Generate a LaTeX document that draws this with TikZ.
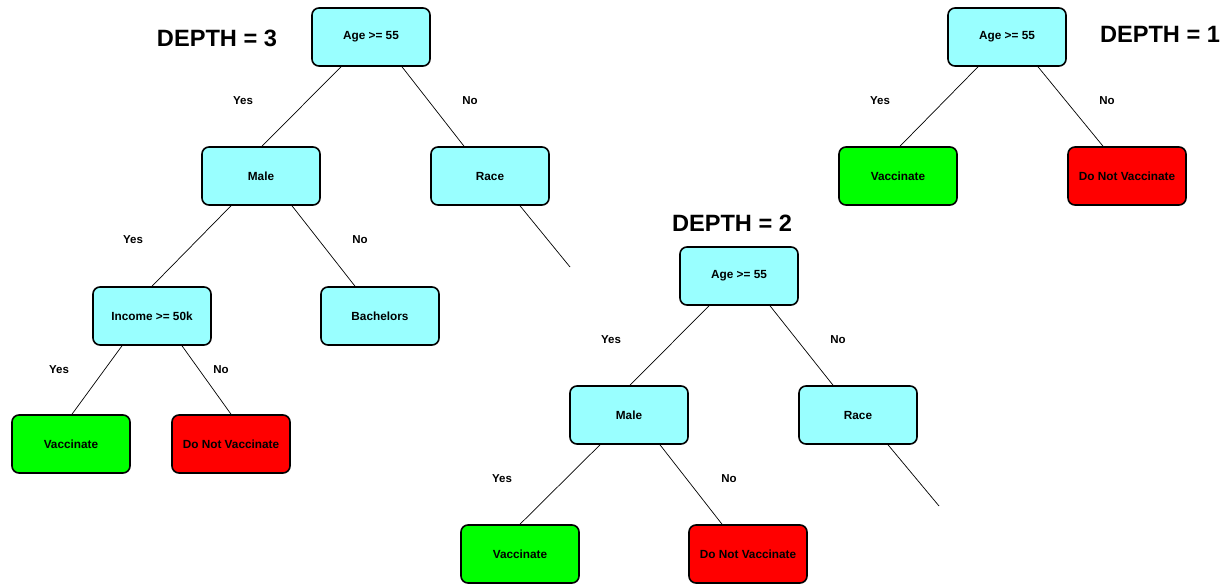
\documentclass[tikz,border=0pt]{standalone}
\usepackage{fontspec}
\setmainfont{Liberation Sans}
\usetikzlibrary{calc}
\definecolor{boxcyan}{HTML}{99FFFF}
\definecolor{boxgreen}{HTML}{00FF00}
\definecolor{boxred}{HTML}{FF0000}
\tikzset{
  box/.style={draw=black, line width=1.6pt, rounded corners=7pt,
    minimum width=118pt, minimum height=58pt, inner sep=0pt,
    font=\fontsize{11.8}{14}\selectfont\bfseries},
  split/.style={box, fill=boxcyan},
  yesleaf/.style={box, fill=boxgreen},
  noleaf/.style={box, fill=boxred},
  edge/.style={draw=black, line width=0.7pt},
  lbl/.style={font=\fontsize{11.5}{14}\selectfont\bfseries, inner sep=0pt},
  title/.style={font=\fontsize{23.6}{27}\selectfont\bfseries, inner sep=0pt}
}
\begin{document}
\begin{tikzpicture}[x=1pt,y=1pt]
\useasboundingbox (0,0) rectangle (1225,-586);

% ---------- tree of depth 3 ----------
\node[title] (t3) at (217,-38) {DEPTH = 3};
\node[split] (a3) at (371,-37) {Age >= 55};
\node[split] (m3) at (261,-176) {Male};
\node[split] (r3) at (490,-176) {Race};
\node[split] (i3) at (152,-316) {Income >= 50k};
\node[split] (b3) at (380,-316) {Bachelors};
\node[yesleaf] (v3) at (71,-444) {Vaccinate};
\node[noleaf] (n3) at (231,-444) {Do Not Vaccinate};
\coordinate (r3end) at (570,-267);

\draw[edge] ([xshift=-30pt]a3.south) -- ([xshift=1pt]m3.north);
\draw[edge] ([xshift=31pt]a3.south) -- ([xshift=-26pt]r3.north);
\draw[edge] ([xshift=30pt]r3.south) -- (r3end);
\draw[edge] ([xshift=-30pt]m3.south) -- (i3.north);
\draw[edge] ([xshift=31pt]m3.south) -- ([xshift=-25pt]b3.north);
\draw[edge] ([xshift=-30pt]i3.south) -- ([xshift=1pt]v3.north);
\draw[edge] ([xshift=30pt]i3.south) -- (n3.north);

\node[lbl] (y3a) at (243,-101) {Yes};
\node[lbl] (n3a) at (470,-101) {No};
\node[lbl] (y3b) at (133,-240) {Yes};
\node[lbl] (n3b) at (360,-240) {No};
\node[lbl] (y3c) at (59,-370) {Yes};
\node[lbl] (n3c) at (221,-370) {No};

% ---------- tree of depth 2 ----------
\node[title] (t2) at (732,-223) {DEPTH = 2};
\node[split] (a2) at (739,-276) {Age >= 55};
\node[split] (m2) at (629,-415) {Male};
\node[split] (r2) at (858,-415) {Race};
\node[yesleaf] (v2) at (520,-554) {Vaccinate};
\node[noleaf] (n2) at (748,-554) {Do Not Vaccinate};
\coordinate (r2end) at (939,-506);

\draw[edge] ([xshift=-30pt]a2.south) -- ([xshift=1pt]m2.north);
\draw[edge] ([xshift=31pt]a2.south) -- ([xshift=-25pt]r2.north);
\draw[edge] ([xshift=30pt]r2.south) -- (r2end);
\draw[edge] ([xshift=-29pt]m2.south) -- (v2.north);
\draw[edge] ([xshift=31pt]m2.south) -- ([xshift=-26pt]n2.north);

\node[lbl] (y2a) at (611,-340) {Yes};
\node[lbl] (n2a) at (838,-340) {No};
\node[lbl] (y2b) at (502,-479) {Yes};
\node[lbl] (n2b) at (729,-479) {No};

% ---------- tree of depth 1 ----------
\node[title] (t1) at (1160,-34) {DEPTH = 1};
\node[split] (a1) at (1007,-37) {Age >= 55};
\node[yesleaf] (v1) at (898,-176) {Vaccinate};
\node[noleaf] (n1) at (1127,-176) {Do Not Vaccinate};

\draw[edge] ([xshift=-29pt]a1.south) -- ([xshift=2pt]v1.north);
\draw[edge] ([xshift=31pt]a1.south) -- ([xshift=-24pt]n1.north);

\node[lbl] (y1a) at (880,-101) {Yes};
\node[lbl] (n1a) at (1107,-101) {No};
\end{tikzpicture}
\end{document}
